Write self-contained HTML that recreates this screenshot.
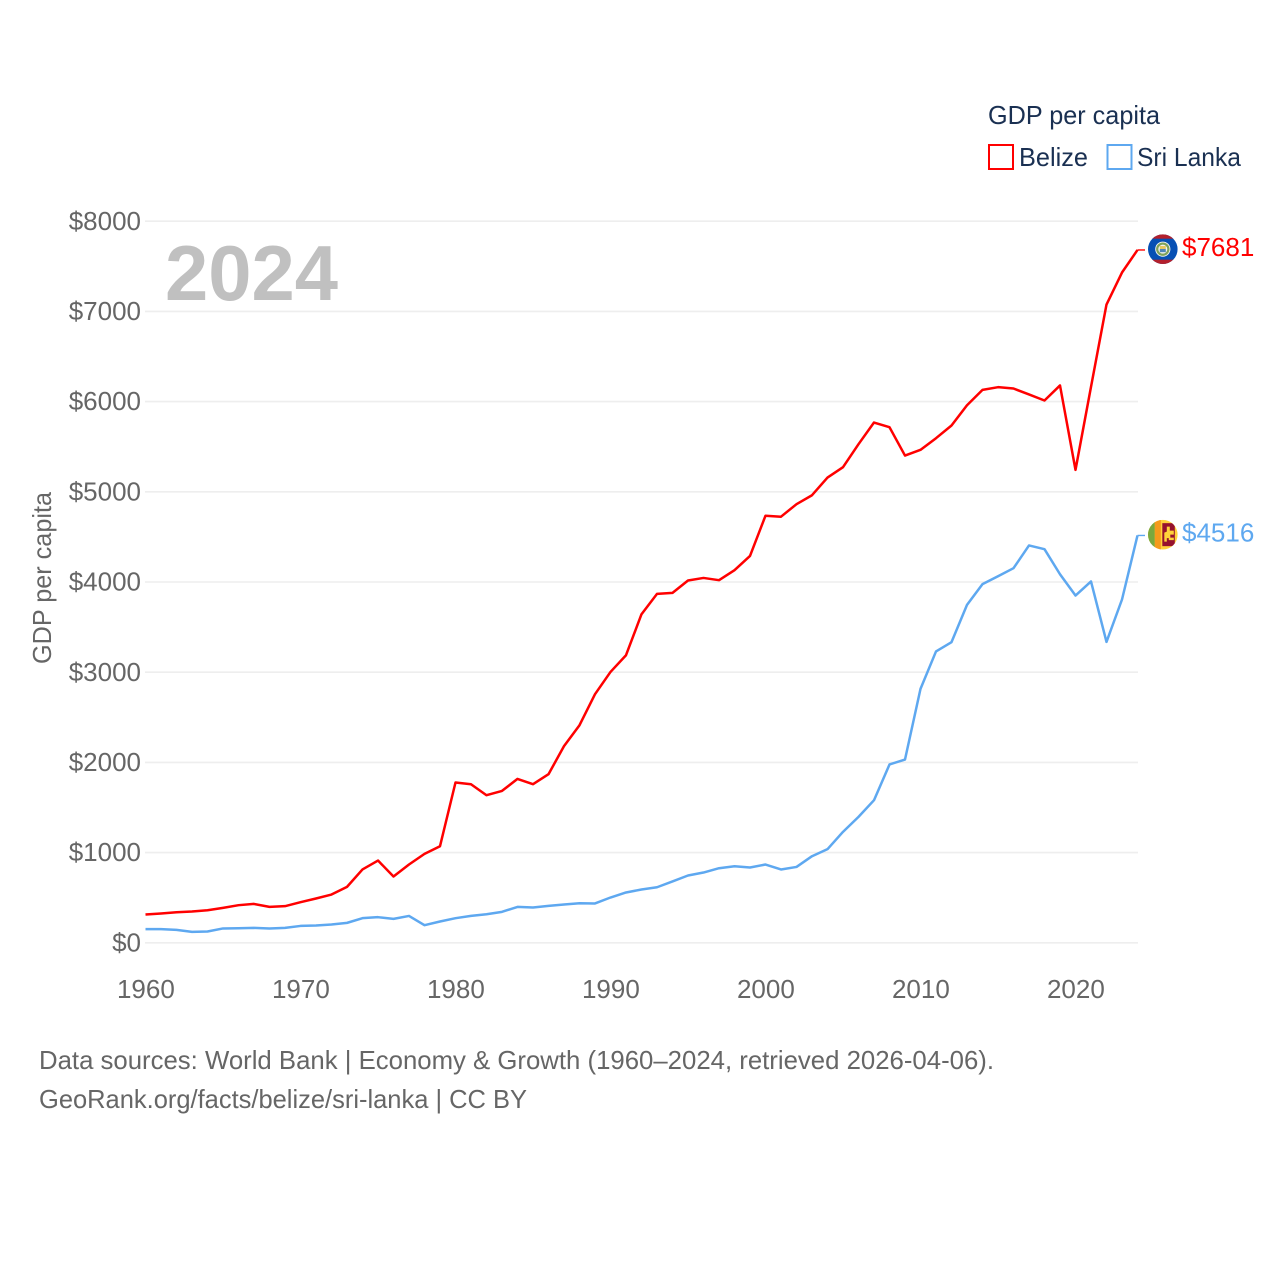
<!DOCTYPE html>
<html lang="en">
<head>
<meta charset="utf-8">
<title>GDP per capita: Belize and Sri Lanka</title>
<style>
html,body{margin:0;padding:0;background:#fff;}
svg{display:block;}
text{font-family:"Liberation Sans",sans-serif;}
.tick{font-size:26px;fill:#666;}
.legend{font-size:26px;fill:#1a3052;}
.src{font-size:26px;fill:#666;}
</style>
</head>
<body>
<svg id="chart" xmlns="http://www.w3.org/2000/svg" width="1280" height="1280" viewBox="0 0 1280 1280">
  <rect x="0" y="0" width="1280" height="1280" fill="#fff"/>
  <g id="grid"></g>
  <g id="yticks"></g>
  <g id="xticks"></g>
  <text class="tick" transform="translate(51,664) rotate(-90)" textLength="172" lengthAdjust="spacingAndGlyphs">GDP per capita</text>
  <text x="165" y="300" font-size="78" font-weight="700" fill="#c0c0c0" textLength="173" lengthAdjust="spacingAndGlyphs">2024</text>
  <g id="series"></g>

  <g>
    <text class="legend" x="988" y="124" textLength="172" lengthAdjust="spacingAndGlyphs">GDP per capita</text>
    <g>
      <rect x="989" y="145" width="24" height="24" fill="#fff" stroke="#ff0000" stroke-width="2"/>
      <text class="legend" x="1019" y="166" textLength="69" lengthAdjust="spacingAndGlyphs">Belize</text>
    </g>
    <g>
      <rect x="1107.5" y="145" width="24" height="24" fill="#fff" stroke="#5ea8f0" stroke-width="2"/>
      <text class="legend" x="1137" y="166" textLength="104" lengthAdjust="spacingAndGlyphs">Sri Lanka</text>
    </g>
  </g>

  <defs>
    <clipPath id="flag-clip"><circle cx="0" cy="0" r="14.8"/></clipPath>
  </defs>

  <g id="flag-belize" clip-path="url(#flag-clip)">
    <rect x="-15" y="-15" width="30" height="30" fill="#0650b4"/>
    <rect x="-15" y="-15" width="30" height="4.5" fill="#b3202c"/>
    <rect x="-15" y="10.5" width="30" height="4.5" fill="#b3202c"/>
    <circle r="7.6" fill="#f4f4f0"/>
    <circle r="5.6" fill="none" stroke="#7fa25a" stroke-width="2.2"/>
    <rect x="-3" y="-3.2" width="6" height="3" fill="#e8c860"/>
    <rect x="-3" y="-0.2" width="6" height="3.2" fill="#4f86b8"/>
  </g>

  <g id="flag-sri-lanka" clip-path="url(#flag-clip)">
    <rect x="-15" y="-15" width="30" height="30" fill="#ffd23a"/>
    <rect x="-15" y="-15" width="7" height="30" fill="#7aa83e"/>
    <rect x="-8" y="-15" width="6" height="30" fill="#f59a1c"/>
    <rect x="-0.5" y="-11.5" width="12.5" height="23" fill="#96122e"/>
    <path d="M1.5 6 L1.5 -2 L4 -3 L4 -8 L7 -8 L7 -4 L11 -4 L11 0 L7.5 0 L7.5 3 L11 3 L11 5.5 L6 5.5 L6 3.5 L4 3.5 L4 7 L1.5 7 Z" fill="#ffd23a"/>
  </g>

  <g>
    <text class="src" x="39" y="1069" textLength="955" lengthAdjust="spacingAndGlyphs">Data sources: World Bank | Economy &amp; Growth (1960–2024, retrieved 2026-04-06).</text>
    <text class="src" x="39" y="1108" textLength="488" lengthAdjust="spacingAndGlyphs">GeoRank.org/facts/belize/sri-lanka | CC BY</text>
  </g>
</svg>
<script>
const firstYear = 1960;
const belizeValues = [314,325,339,347,361,387,417,431,398,406,450,491,535,620,813,912,735,868,986,1071,1777,1758,1636,1684,1817,1758,1869,2180,2412,2756,3003,3188,3643,3868,3879,4017,4045,4020,4131,4289,4735,4724,4863,4962,5158,5273,5528,5768,5716,5402,5465,5594,5735,5960,6130,6160,6145,6079,6012,6179,5243,6163,7076,7431,7681];
const sriLankaValues = [151,151,143,121,125,159,162,165,159,165,187,192,203,221,273,284,265,298,195,236,273,298,317,343,398,391,409,425,439,436,502,558,591,616,680,746,779,827,849,835,868,813,841,960,1038,1230,1396,1581,1977,2032,2815,3230,3333,3746,3976,4064,4153,4405,4364,4086,3850,4006,3336,3806,4516];
const yTickValues = [0,1000,2000,3000,4000,5000,6000,7000,8000];
const xTickYears = [1960,1970,1980,1990,2000,2010,2020];

const NS = 'http://www.w3.org/2000/svg';
const xScale = function (year) { return 145.5 + (year - 1960) * 15.5; };
const yScale = function (value) { return 942.8 - value * 0.0902; };

const grid = document.getElementById('grid');
const yticks = document.getElementById('yticks');
const xticks = document.getElementById('xticks');
const seriesLayer = document.getElementById('series');

yTickValues.forEach(function (v) {
  const line = document.createElementNS(NS, 'line');
  
  
  line.setAttribute('x1', 145);
  line.setAttribute('x2', 1138);
  line.setAttribute('y1', yScale(v));
  line.setAttribute('y2', yScale(v));
  line.setAttribute('stroke', '#eeeeee');
  line.setAttribute('stroke-width', 1.6);
  grid.appendChild(line);

  const label = document.createElementNS(NS, 'text');
  
  
  label.setAttribute('class', 'tick');
  label.setAttribute('x', 141);
  label.setAttribute('y', yScale(v) + 8.6);
  label.setAttribute('text-anchor', 'end');
  label.textContent = '$' + v;
  yticks.appendChild(label);
});

xTickYears.forEach(function (year) {
  const label = document.createElementNS(NS, 'text');
  
  
  label.setAttribute('class', 'tick');
  label.setAttribute('x', xScale(year) + 0.4);
  label.setAttribute('y', 998);
  label.setAttribute('text-anchor', 'middle');
  label.textContent = String(year);
  xticks.appendChild(label);
});

function drawSeries(values, color, lineName, connectorName, labelName, flagId) {
  const pts = values.map(function (v, i) {
    return xScale(firstYear + i).toFixed(2) + ',' + yScale(v).toFixed(2);
  }).join(' ');
  const last = values[values.length - 1];
  const lastX = xScale(firstYear + values.length - 1);
  const lastY = yScale(last);

  const line = document.createElementNS(NS, 'polyline');
  
  
  line.setAttribute('points', pts);
  line.setAttribute('fill', 'none');
  line.setAttribute('stroke', color);
  line.setAttribute('stroke-width', 2.5);
  line.setAttribute('stroke-linejoin', 'round');
  seriesLayer.appendChild(line);

  const connector = document.createElementNS(NS, 'line');
  
  
  connector.setAttribute('x1', lastX);
  connector.setAttribute('x2', lastX + 7.5);
  connector.setAttribute('y1', lastY);
  connector.setAttribute('y2', lastY);
  connector.setAttribute('stroke', color);
  connector.setAttribute('stroke-width', 1.4);
  seriesLayer.appendChild(connector);

  const label = document.createElementNS(NS, 'text');
  
  
  label.setAttribute('x', 1182);
  label.setAttribute('y', lastY + 6);
  label.setAttribute('font-size', 26);
  label.setAttribute('fill', color);
  label.textContent = '$' + last;
  seriesLayer.appendChild(label);

  document.getElementById(flagId).setAttribute('transform', 'translate(1162.8,' + (lastY - 0.8) + ')');
}

drawSeries(belizeValues, '#ff0000', 'series-line-belize', 'end-connector-belize', 'end-value-belize', 'flag-belize');
drawSeries(sriLankaValues, '#5ea8f0', 'series-line-sri-lanka', 'end-connector-sri-lanka', 'end-value-sri-lanka', 'flag-sri-lanka');
</script>
</body>
</html>
